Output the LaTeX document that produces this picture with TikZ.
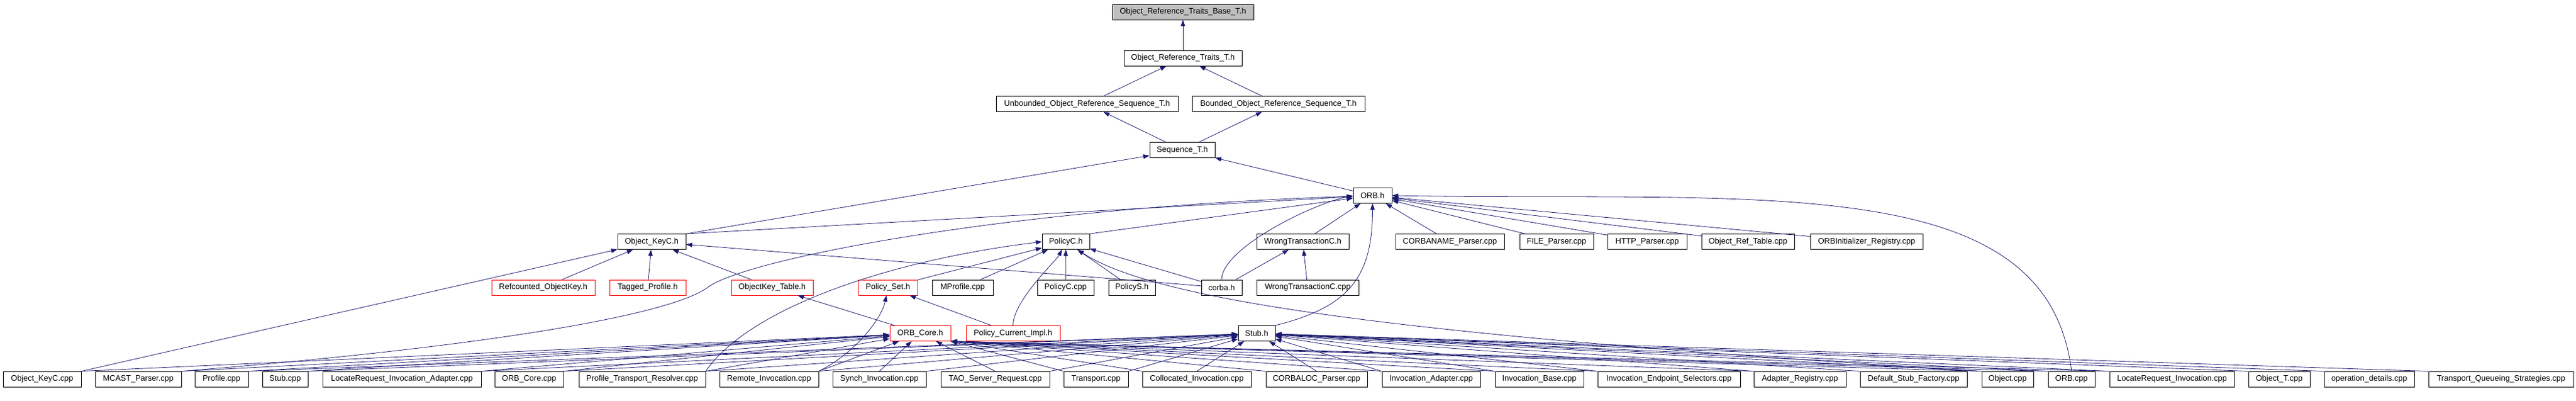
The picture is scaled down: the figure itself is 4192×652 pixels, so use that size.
\documentclass[tikz,border=0pt]{standalone}
\usepackage{fontspec}
\setmainfont{Liberation Sans}
\usepackage{tikz}
\definecolor{edgeblue}{RGB}{25, 25, 112}
\definecolor{basegray}{RGB}{191, 191, 191}
\usetikzlibrary{arrows.meta}

\begin{document}
\begin{tikzpicture}[
  filebox/.style={draw=black, fill=white, line width=0.8pt, inner sep=0pt, minimum height=25pt, font=\fontsize{13pt}{15pt}\selectfont},
  redbox/.style={filebox, draw=red},
  topbox/.style={filebox, fill=basegray},
  incl/.style={draw=edgeblue, line width=0.8pt, -{Triangle[length=10pt, width=7pt]}}]
\useasboundingbox (0pt, 0pt) rectangle (4192pt, -652pt);
\node (1) [topbox, minimum width=230pt] at (1925pt, -19.5pt) {Object\_Reference\_Traits\_Base\_T.h};
\node (2) [filebox, minimum width=192pt] at (1925pt, -94.5pt) {Object\_Reference\_Traits\_T.h};
\node (3) [filebox, minimum width=296pt] at (1769pt, -169pt) {Unbounded\_Object\_Reference\_Sequence\_T.h};
\node (4) [filebox, minimum width=281pt] at (2080.5pt, -169pt) {Bounded\_Object\_Reference\_Sequence\_T.h};
\node (5) [filebox, minimum width=106pt] at (1924pt, -244pt) {Sequence\_T.h};
\node (6) [filebox, minimum width=63pt] at (2233.5pt, -318pt) {ORB.h};
\node (7) [filebox, minimum width=111pt] at (1060.5pt, -393pt) {Object\_KeyC.h};
\node (8) [filebox, minimum width=77pt] at (1734.5pt, -393pt) {PolicyC.h};
\node (9) [filebox, minimum width=150pt] at (2120pt, -393pt) {WrongTransactionC.h};
\node (10) [filebox, minimum width=177pt] at (2359.5pt, -393pt) {CORBANAME\_Parser.cpp};
\node (11) [filebox, minimum width=120pt] at (2533pt, -393pt) {FILE\_Parser.cpp};
\node (12) [filebox, minimum width=129pt] at (2680.5pt, -393pt) {HTTP\_Parser.cpp};
\node (13) [filebox, minimum width=151pt] at (2844.5pt, -393pt) {Object\_Ref\_Table.cpp};
\node (14) [filebox, minimum width=183pt] at (3037.5pt, -393pt) {ORBInitializer\_Registry.cpp};
\node (15) [redbox, minimum width=168pt] at (884pt, -467.5pt) {Refcounted\_ObjectKey.h};
\node (16) [redbox, minimum width=124pt] at (1054pt, -467.5pt) {Tagged\_Profile.h};
\node (17) [redbox, minimum width=133pt] at (1256.5pt, -467.5pt) {ObjectKey\_Table.h};
\node (18) [redbox, minimum width=96pt] at (1445pt, -467.5pt) {Policy\_Set.h};
\node (19) [filebox, minimum width=99pt] at (1566.5pt, -467.5pt) {MProfile.cpp};
\node (20) [filebox, minimum width=92pt] at (1734pt, -467.5pt) {PolicyC.cpp};
\node (21) [filebox, minimum width=76pt] at (1842pt, -467.5pt) {PolicyS.h};
\node (22) [filebox, minimum width=66pt] at (1988pt, -467.5pt) {corba.h};
\node (23) [filebox, minimum width=166pt] at (2128pt, -467.5pt) {WrongTransactionC.cpp};
\node (24) [redbox, minimum width=99pt] at (1497.5pt, -542pt) {ORB\_Core.h};
\node (25) [redbox, minimum width=153pt] at (1648.5pt, -542pt) {Policy\_Current\_Impl.h};
\node (26) [filebox, minimum width=60pt] at (2045pt, -542pt) {Stub.h};
\node (27) [filebox, minimum width=127pt] at (68.5pt, -616.5pt) {Object\_KeyC.cpp};
\node (28) [filebox, minimum width=140pt] at (225pt, -616.5pt) {MCAST\_Parser.cpp};
\node (29) [filebox, minimum width=87pt] at (360.5pt, -616.5pt) {Profile.cpp};
\node (30) [filebox, minimum width=74pt] at (464pt, -616.5pt) {Stub.cpp};
\node (31) [filebox, minimum width=258pt] at (654pt, -616.5pt) {LocateRequest\_Invocation\_Adapter.cpp};
\node (32) [filebox, minimum width=112pt] at (861pt, -616.5pt) {ORB\_Core.cpp};
\node (33) [filebox, minimum width=206pt] at (1045pt, -616.5pt) {Profile\_Transport\_Resolver.cpp};
\node (34) [filebox, minimum width=161pt] at (1251.5pt, -616.5pt) {Remote\_Invocation.cpp};
\node (35) [filebox, minimum width=152pt] at (1431pt, -616.5pt) {Synch\_Invocation.cpp};
\node (36) [filebox, minimum width=177pt] at (1619.5pt, -616.5pt) {TAO\_Server\_Request.cpp};
\node (37) [filebox, minimum width=105pt] at (1783.5pt, -616.5pt) {Transport.cpp};
\node (38) [filebox, minimum width=177pt] at (1947.5pt, -616.5pt) {Collocated\_Invocation.cpp};
\node (39) [filebox, minimum width=165pt] at (2142.5pt, -616.5pt) {CORBALOC\_Parser.cpp};
\node (40) [filebox, minimum width=160pt] at (2329pt, -616.5pt) {Invocation\_Adapter.cpp};
\node (41) [filebox, minimum width=144pt] at (2505pt, -616.5pt) {Invocation\_Base.cpp};
\node (42) [filebox, minimum width=232pt] at (2716pt, -616.5pt) {Invocation\_Endpoint\_Selectors.cpp};
\node (43) [filebox, minimum width=150pt] at (2929pt, -616.5pt) {Adapter\_Registry.cpp};
\node (44) [filebox, minimum width=174pt] at (3114pt, -616.5pt) {Default\_Stub\_Factory.cpp};
\node (45) [filebox, minimum width=84pt] at (3267pt, -616.5pt) {Object.cpp};
\node (46) [filebox, minimum width=76pt] at (3371pt, -616.5pt) {ORB.cpp};
\node (47) [filebox, minimum width=203pt] at (3534.5pt, -616.5pt) {LocateRequest\_Invocation.cpp};
\node (48) [filebox, minimum width=100pt] at (3709pt, -616.5pt) {Object\_T.cpp};
\node (49) [filebox, minimum width=147pt] at (3855.5pt, -616.5pt) {operation\_details.cpp};
\node (50) [filebox, minimum width=236pt] at (4070pt, -616.5pt) {Transport\_Queueing\_Strategies.cpp};
\coordinate (m1) at (1152pt, -467pt);
\draw [incl] (2) to (1);
\draw [incl] (3) to (2);
\draw [incl] (4) to (2);
\draw [incl] (5) to (3);
\draw [incl] (5) to (4);
\draw [incl] (7.north east) to (5);
\draw [incl] (6) to (5);
\draw [incl] (7.north east) to (6);
\draw [incl] (28.north east) .. controls +(500pt, 40pt) and +(-60pt, -45pt) .. (m1) .. controls +(60pt, 45pt) and +(-600pt, -20pt) .. (6);
\draw [incl] (8.north east) to (6);
\draw [incl] (22.north) .. controls +(0pt, 50pt) and +(-70pt, -15pt) .. (6.west);
\draw [incl] (9) to (6);
\draw [incl] (26.north east) .. controls +(120pt, 30pt) and +(0pt, -120pt) .. (6.south);
\draw [incl] (10) to (6);
\draw [incl] (11) to (6);
\draw [incl] (12) to (6);
\draw [incl] (13) to (6);
\draw [incl] (14) to (6);
\draw [incl] (46.north) .. controls +(-40pt, 330pt) and +(600pt, -10pt) .. (6.east);
\draw [incl] (27.north east) to (7);
\draw [incl] (15) to (7);
\draw [incl] (16) to (7);
\draw [incl] (17) to (7);
\draw [incl] (22) to (7);
\draw [incl] (18) to (8);
\draw [incl] (19) to (8);
\draw [incl] (20) to (8);
\draw [incl] (21) to (8);
\draw [incl] (22) to (8);
\draw [incl] (25.north) .. controls +(0pt, 40pt) and +(-15pt, -30pt) .. (8);
\draw [incl] (33.north east) .. controls +(72pt, 104pt) and +(-246pt, -30pt) .. (8.west);
\draw [incl] (45.north west) .. controls +(-900pt, 55pt) and +(150pt, -100pt) .. (8);
\draw [incl] (23) to (9);
\draw [incl] (22) to (9);
\draw [incl] (34.north east) .. controls +(60pt, 30pt) and +(-10pt, -50pt) .. (18);
\draw [incl] (25) to (18);
\draw [incl] (24) to (17);
\draw [incl] (27.north east) to (24);
\draw [incl] (28.north east) to (24);
\draw [incl] (29.north east) to (24);
\draw [incl] (30.north east) to (24);
\draw [incl] (31.north east) to (24);
\draw [incl] (32.north east) to (24);
\draw [incl] (33.north east) to (24);
\draw [incl] (34.north east) to (24);
\draw [incl] (35.north) to (24);
\draw [incl] (36.north) to (24);
\draw [incl] (37.north west) to (24.south east);
\draw [incl] (38.north west) to (24.south east);
\draw [incl] (39.north west) to (24.south east);
\draw [incl] (40.north west) to (24.south east);
\draw [incl] (41.north west) to (24.south east);
\draw [incl] (42.north west) to (24.south east);
\draw [incl] (43.north west) to (24.south east);
\draw [incl] (45.north west) to (24.south east);
\draw [incl] (46.north west) to (24.south east);
\draw [incl] (47.north west) to (24.south east);
\draw [incl] (29.north east) to (26);
\draw [incl] (30.north east) to (26);
\draw [incl] (31.north east) to (26);
\draw [incl] (32.north east) to (26);
\draw [incl] (33.north east) to (26);
\draw [incl] (34.north east) to (26);
\draw [incl] (35.north east) to (26);
\draw [incl] (36.north east) to (26);
\draw [incl] (37.north east) to (26);
\draw [incl] (38.north) to (26);
\draw [incl] (39.north) to (26);
\draw [incl] (40.north west) to (26);
\draw [incl] (41.north west) to (26);
\draw [incl] (42.north west) to (26);
\draw [incl] (43.north west) to (26);
\draw [incl] (44.north west) to (26);
\draw [incl] (45.north west) to (26);
\draw [incl] (46.north west) to (26);
\draw [incl] (47.north west) to (26);
\draw [incl] (48.north west) to (26);
\draw [incl] (49.north west) to (26);
\draw [incl] (50.north west) to (26);
\end{tikzpicture}
\end{document}
